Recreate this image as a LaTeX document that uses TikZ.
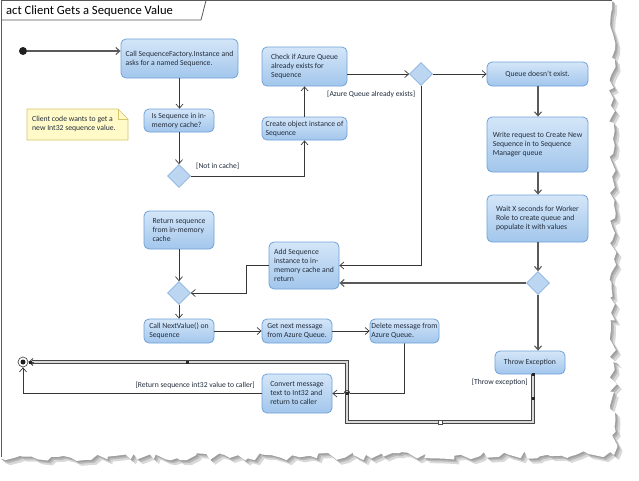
\documentclass[tikz,border=0pt]{standalone}
\usepackage{fontspec}
\setmainfont{Carlito}
\usetikzlibrary{arrows.meta,shapes.geometric,decorations.pathmorphing}
\definecolor{boxtop}{RGB}{212,230,248}
\definecolor{boxbot}{RGB}{162,198,236}
\definecolor{boxline}{RGB}{112,162,216}
\definecolor{dfill}{RGB}{188,214,242}
\definecolor{dline}{RGB}{140,180,225}
\definecolor{txt}{RGB}{35,45,60}
\definecolor{notefill}{RGB}{255,250,200}
\definecolor{noteline}{RGB}{215,195,110}
\definecolor{conncol}{RGB}{55,55,55}
\definecolor{frame}{RGB}{90,90,90}
\begin{document}
\begin{tikzpicture}[x=1pt,y=-1pt,
  act/.style={rectangle, rounded corners=5pt, draw=boxline, line width=0.8pt,
    top color=boxtop, bottom color=boxbot, inner sep=0pt, text=txt,
    font=\fontsize{7.7}{9}\selectfont, align=left},
  dec/.style={diamond, draw=dline, fill=dfill, minimum width=23pt,
    minimum height=23pt, inner sep=0pt, line width=0.6pt},
  conn/.style={draw=conncol, line width=0.7pt, -{Straight Barb[length=4pt,width=7pt]}},
  conn2/.style={draw=gray!70!black, line width=1.1pt, -{Straight Barb[length=4pt,width=7pt]}},
  thickc/.style={draw=gray!55!black, double=gray!30, double distance=1.3pt, line width=0.9pt},
  guard/.style={font=\fontsize{7.6}{8}\selectfont, text=txt, inner sep=0pt},
]
\useasboundingbox (0,0) rectangle (639,480);
\fill[white] (0,0) rectangle (639,480);

% torn page with shadow
\pgfmathsetseed{11}
\fill[gray!30, shift={(5,5)}] (0,0) -- (612,0) decorate[decoration={random steps, segment length=6pt, amplitude=4pt}]{ -- (614,455) -- (0,458)} -- cycle;
\pgfmathsetseed{11}
\fill[gray!55, shift={(3,3)}] (0,0) -- (612,0) decorate[decoration={random steps, segment length=6pt, amplitude=4pt}]{ -- (614,455) -- (0,458)} -- cycle;
\pgfmathsetseed{11}
\fill[gray!75, shift={(1.5,1.5)}] (0,0) -- (612,0) decorate[decoration={random steps, segment length=6pt, amplitude=4pt}]{ -- (614,455) -- (0,458)} -- cycle;
\pgfmathsetseed{11}
\fill[white] (0,0) -- (612,0) decorate[decoration={random steps, segment length=6pt, amplitude=4pt}]{ -- (614,455) -- (0,458)} -- cycle;

% frame and title tab
\draw[frame, line width=0.9pt] (612,0.5) -- (1,0.5) -- (1,457);
\draw[frame, line width=0.8pt] (1,0.5) -- (206,0.5) -- (201,20) -- (1,20);
\node[anchor=west, inner sep=0pt, font=\fontsize{12.6}{15}\selectfont, text=black] (title) at (6,11) {act Client Gets a Sequence Value};

% note
\draw[noteline, fill=notefill, line width=0.7pt] (27,109) -- (118,109) -- (128,119) -- (128,140) -- (27,140) -- cycle;
\draw[noteline, line width=0.7pt] (118,109) -- (118,119) -- (128,119);
\node[anchor=west, inner sep=0pt, text=txt, align=left, font=\fontsize{7.7}{9}\selectfont] (note) at (32,124) {Client code wants to get a\\new Int32 sequence value.};

% initial and final nodes
\node[circle, fill=gray!25!black, minimum size=8pt, inner sep=0pt] (init) at (23,51) {};
\node[circle, draw=gray!60!black, fill=white, line width=0.7pt, minimum size=10pt, inner sep=0pt] (final) at (23,362) {};
\fill[gray!25!black] (final.center) circle (2.5);

% actions
\node[act, minimum width=117pt, minimum height=39pt] (sf) at (179.5,58.5) {Call SequenceFactory.Instance and\\asks for a named Sequence.};
\node[act, minimum width=70pt, minimum height=23pt] (isseq) at (179,120.5) {Is Sequence in in-\\memory cache?};
\node[act, minimum width=85pt, minimum height=39pt] (check) at (304.5,66.5) {Check if Azure Queue\\already exists for\\Sequence};
\node[act, minimum width=85pt, minimum height=23pt] (create) at (304.5,128.5) {Create object instance of\\Sequence};
\node[act, minimum width=101pt, minimum height=24pt, align=center] (qne) at (537.5,74) {Queue doesn’t exist.};
\node[act, minimum width=101pt, minimum height=55pt] (write) at (537.5,144.5) {Write request to Create New\\Sequence in to Sequence\\Manager queue};
\node[act, minimum width=101pt, minimum height=47pt] (wait) at (537.5,218.5) {Wait X seconds for Worker\\Role to create queue and\\populate it with values};
\node[act, minimum width=70pt, minimum height=47pt] (addseq) at (304,265.5) {Add Sequence\\instance to in-\\memory cache and\\return};
\node[act, minimum width=70pt, minimum height=38pt] (retseq) at (179,230) {Return sequence\\from in-memory\\cache};
\node[act, minimum width=70pt, minimum height=24pt] (callnv) at (179,331) {Call NextValue() on\\Sequence};
\node[act, minimum width=70pt, minimum height=24pt] (getnext) at (297,331) {Get next message\\from Azure Queue.};
\node[act, minimum width=69pt, minimum height=24pt] (delmsg) at (404.5,331) {Delete message from\\Azure Queue.};
\node[act, minimum width=70pt, minimum height=39pt] (convert) at (297,393.5) {Convert message\\text to Int32 and\\return to caller};
\node[act, minimum width=70pt, minimum height=23pt, align=center] (throw) at (530,362.5) {Throw Exception};

% decisions
\node[dec] (d1) at (421,74) {};
\node[dec] (d2) at (179,176) {};
\node[dec] (d3) at (538,283) {};
\node[dec] (d4) at (179,293) {};

% guards
\node[guard, anchor=west] (lnc) at (196,166) {[Not in cache]};
\node[guard, anchor=west] (laq) at (327,94) {[Azure Queue already exists]};
\node[guard, anchor=east] (lret) at (255,385) {[Return sequence int32 value to caller]};
\node[guard, anchor=east] (lthr) at (528,382) {[Throw exception]};

% helper coordinates
\coordinate (bend1) at (246,267);
\coordinate (hopR) at (350,393.5);
\coordinate (tb) at (533,374);
\coordinate (c2) at (347,422);

% connectors
\draw[conn2] (init) -- (init -| sf.west);
\draw[conn] (sf.south) -- (sf.south |- isseq.north);
\draw[conn] (isseq.south) -- (d2.north);
\draw[conn] (d2.east) -| (create.south);
\draw[conn] (create.north) -- (check.south);
\draw[conn] (check.east |- d1.west) -- (d1.west);
\draw[conn] (d1.east) -- (qne.west);
\draw[conn] (d1.south) |- (addseq.east);
\draw[conn2] (qne.south -| d3.north) -- (write.north -| d3.north);
\draw[conn2] (write.south -| d3.north) -- (wait.north -| d3.north);
\draw[conn2] (wait.south -| d3.north) -- (d3.north);
\draw[conn2] (d3.west) -- (d3.west -| addseq.east);
\draw[conn2] (d3.south) -- (d3.south |- throw.north);
\draw[conn] (addseq.west) -- (addseq.west -| bend1) |- (d4.east);
\draw[conn] (retseq.south) -- (d4.north);
\draw[conn] (d4.south) -- (callnv.north);
\draw[conn] (callnv.east) -- (getnext.west);
\draw[conn] (getnext.east) -- (delmsg.west);
\draw[conn] (convert.west) -| (final.south);

% thick exception flow
\draw[thickc] (tb) |- (c2) |- ([xshift=4pt]final.east);
\draw[draw=gray!60!black, line width=0.9pt, -{Straight Barb[length=4pt,width=7pt]}] ([xshift=6pt]final.east) -- (final.east);
\fill[gray!30!black] (531.5,372.5) rectangle (534.5,375.5);
\fill[gray!30!black] (531.5,396.5) rectangle (534.5,399.5);
\fill[gray!30!black] (185.5,360.5) rectangle (188.5,363.5);
\fill[gray!30!black] (29,360.5) rectangle (32,363.5);
\draw[gray!60!black, fill=white, line width=0.5pt] (438,420) rectangle (442,424);

% delete -> convert with hop over thick flow
\draw[conn] (delmsg.south) |- (hopR) arc (0:-180:3) -- (convert.east);
\fill[gray!30!black] (345.5,392) rectangle (348.5,395);
\end{tikzpicture}
\end{document}
